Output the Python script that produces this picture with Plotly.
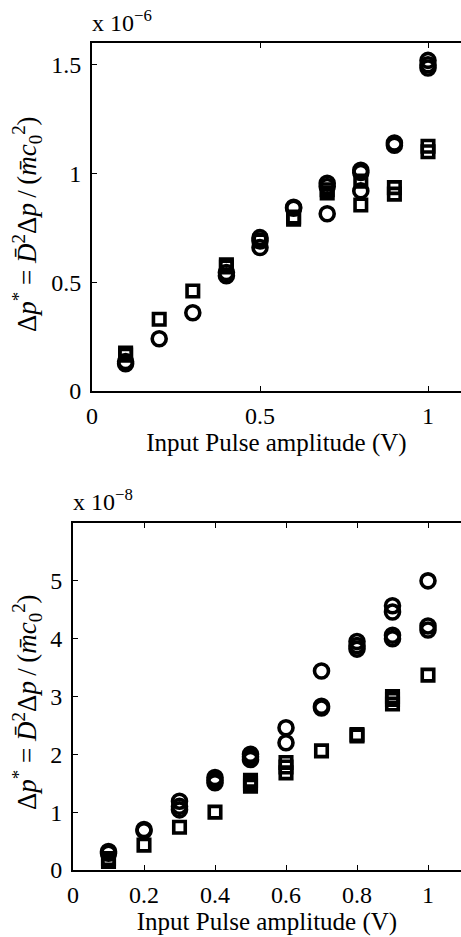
import plotly.graph_objects as go

# ---- data (top panel, units of 1e-6) ----
top_circ_x = [0.1, 0.1, 0.2, 0.3, 0.4, 0.4, 0.5, 0.5, 0.5, 0.6, 0.6, 0.7, 0.7, 0.7, 0.8, 0.8, 0.8, 0.9, 0.9, 1.0, 1.0, 1.0]
top_circ_y = [0.125, 0.135, 0.24, 0.36, 0.53, 0.545, 0.66, 0.69, 0.705, 0.84, 0.845, 0.815, 0.94, 0.955, 0.92, 1.005, 1.015, 1.13, 1.14, 1.485, 1.50, 1.52]
top_sq_x = [0.1, 0.1, 0.2, 0.3, 0.4, 0.4, 0.5, 0.6, 0.6, 0.7, 0.7, 0.8, 0.8, 0.9, 0.9, 1.0, 1.0]
top_sq_y = [0.165, 0.175, 0.33, 0.46, 0.57, 0.58, 0.69, 0.79, 0.80, 0.91, 0.925, 0.855, 0.965, 0.905, 0.935, 1.10, 1.125]

# ---- data (bottom panel, units of 1e-8) ----
bot_circ_x = [0.1, 0.1, 0.2, 0.2, 0.3, 0.3, 0.3, 0.4, 0.4, 0.4, 0.5, 0.5, 0.5, 0.6, 0.6, 0.7, 0.7, 0.7, 0.8, 0.8, 0.8, 0.9, 0.9, 0.9, 0.9, 1.0, 1.0, 1.0]
bot_circ_y = [0.29, 0.32, 0.68, 0.70, 1.04, 1.10, 1.19, 1.51, 1.55, 1.60, 1.91, 1.96, 2.00, 2.20, 2.46, 2.80, 2.83, 3.44, 3.82, 3.88, 3.95, 4.00, 4.06, 4.46, 4.57, 4.15, 4.22, 5.00]
bot_sq_x = [0.1, 0.1, 0.2, 0.3, 0.4, 0.5, 0.5, 0.5, 0.6, 0.6, 0.6, 0.7, 0.8, 0.8, 0.9, 0.9, 0.9, 1.0]
bot_sq_y = [0.15, 0.20, 0.43, 0.74, 1.00, 1.45, 1.50, 1.55, 1.68, 1.78, 1.86, 2.06, 2.32, 2.34, 2.87, 2.95, 3.00, 3.37]

top_xticks = [0, 0.5, 1]
top_xticklabels = ["0", "0.5", "1"]
top_yticks = [0, 0.5, 1, 1.5]
top_yticklabels = ["0", "0.5", "1", "1.5"]
bot_xticks = [0, 0.2, 0.4, 0.6, 0.8, 1]
bot_xticklabels = ["0", "0.2", "0.4", "0.6", "0.8", "1"]
bot_yticks = [0, 1, 2, 3, 4, 5]
bot_yticklabels = ["0", "1", "2", "3", "4", "5"]

W, H = 461, 937
FONT = "Liberation Serif"
FS = 24
FS_TITLE = 25
FS_Y = 27

def px_x(p):
    return p / W

def px_y(p):
    return (H - p) / H

circ = dict(symbol="circle-open", size=14, color="black", line=dict(width=3.6, color="black"))
sq = dict(symbol="square-open", size=11.5, color="black", line=dict(width=3.6, color="black"))

fig = go.Figure()
fig.add_trace(go.Scatter(x=top_circ_x, y=top_circ_y, mode="markers", marker=circ, xaxis="x", yaxis="y", showlegend=False))
fig.add_trace(go.Scatter(x=top_sq_x, y=top_sq_y, mode="markers", marker=sq, xaxis="x", yaxis="y", showlegend=False))
fig.add_trace(go.Scatter(x=bot_circ_x, y=bot_circ_y, mode="markers", marker=circ, xaxis="x2", yaxis="y2", showlegend=False))
fig.add_trace(go.Scatter(x=bot_sq_x, y=bot_sq_y, mode="markers", marker=sq, xaxis="x2", yaxis="y2", showlegend=False))

top_l, top_t, top_b = 92, 43, 391
bot_l, bot_t, bot_b = 73, 523, 870
top_xmax = (W - top_l) / 336.0
bot_xmax = (W - bot_l) / 355.0

axis_common = dict(
    showgrid=False, zeroline=False, showline=True, linecolor="black", linewidth=2,
    ticks="inside", ticklen=5, tickwidth=1, tickcolor="black",
    tickfont=dict(family=FONT, size=FS, color="black"), automargin=False,
)

fig.update_layout(
    width=W, height=H,
    margin=dict(l=0, r=0, t=0, b=0),
    paper_bgcolor="white", plot_bgcolor="white",
    font=dict(family=FONT, size=FS, color="black"),
    xaxis=dict(axis_common, domain=[px_x(top_l), 1.0], range=[0, top_xmax], anchor="y",
               tickvals=top_xticks, ticktext=top_xticklabels, mirror="ticks", ticklabelstandoff=2,
               title=dict(text="Input Pulse amplitude (V)", font=dict(family=FONT, size=FS_TITLE), standoff=2)),
    yaxis=dict(axis_common, domain=[px_y(top_b), px_y(top_t)], range=[0, 1.6], anchor="x",
               tickvals=top_yticks, ticktext=top_yticklabels, ticklabelstandoff=4),
    yaxis3=dict(overlaying="y", side="right", anchor="x", range=[0, 1.6], showgrid=False, zeroline=False,
                showline=False, ticks="inside", ticklen=5, tickcolor="black", showticklabels=False,
                tickvals=top_yticks),
    xaxis2=dict(axis_common, domain=[px_x(bot_l), 1.0], range=[0, bot_xmax], anchor="y2",
                tickvals=bot_xticks, ticktext=bot_xticklabels, mirror="ticks", ticklabelstandoff=2,
                title=dict(text="Input Pulse amplitude (V)", font=dict(family=FONT, size=FS_TITLE), standoff=0)),
    yaxis2=dict(axis_common, domain=[px_y(bot_b), px_y(bot_t)], range=[0, 6], anchor="x2",
                tickvals=bot_yticks, ticktext=bot_yticklabels, ticklabelstandoff=4),
    yaxis4=dict(overlaying="y2", side="right", anchor="x2", range=[0, 6], showgrid=False, zeroline=False,
                showline=False, ticks="inside", ticklen=5, tickcolor="black", showticklabels=False,
                tickvals=bot_yticks),
)

ytitle = ("Δ<i>p</i><sup>*</sup> = <i>D̄</i><sup>2</sup>Δ<i>p</i>\u2009/\u2009(<i>m̄c</i>"
          "<sub>0</sub><sup>2</sup>)")
fig.add_annotation(text=ytitle, textangle=-90, xref="paper", yref="paper", x=px_x(27), y=px_y(224),
                   xanchor="center", yanchor="middle", showarrow=False, font=dict(family=FONT, size=FS_Y))
fig.add_annotation(text=ytitle, textangle=-90, xref="paper", yref="paper", x=px_x(27), y=px_y(702),
                   xanchor="center", yanchor="middle", showarrow=False, font=dict(family=FONT, size=FS_Y))
fig.add_annotation(text="x 10<sup>−6</sup>", xref="paper", yref="paper", x=px_x(90), y=px_y(21),
                   xanchor="left", yanchor="middle", showarrow=False, font=dict(family=FONT, size=FS))
fig.add_annotation(text="x 10<sup>−8</sup>", xref="paper", yref="paper", x=px_x(71), y=px_y(500),
                   xanchor="left", yanchor="middle", showarrow=False, font=dict(family=FONT, size=FS))

fig.write_html("out.html")
